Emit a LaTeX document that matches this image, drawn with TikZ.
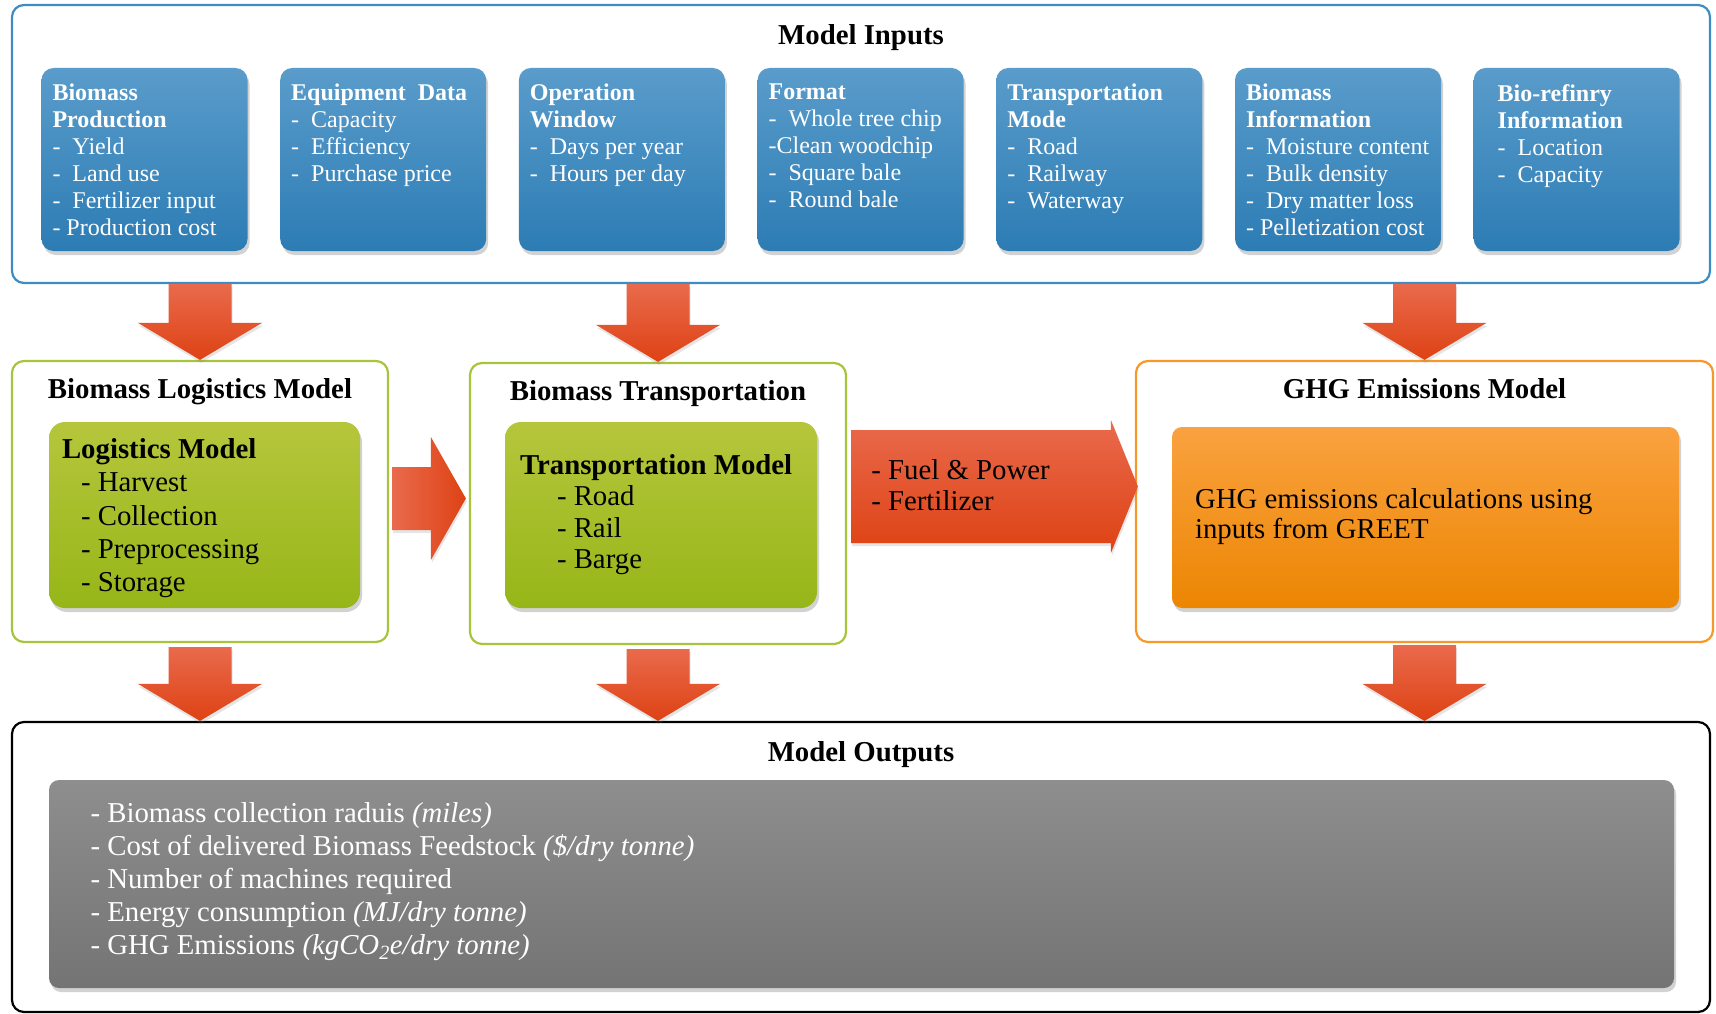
\documentclass[tikz,border=0pt]{standalone}
\usepackage{fontspec}
\setmainfont{Liberation Serif}
\usepackage{tikz}
\usepackage{xcolor}
\usetikzlibrary{positioning}
\usetikzlibrary{calc}
\usetikzlibrary{shadows}

\definecolor{inblue}{RGB}{62,140,196}
\definecolor{bluetop}{RGB}{90,156,203}
\definecolor{bluebot}{RGB}{44,124,180}
\definecolor{greenedge}{RGB}{168,196,60}
\definecolor{greentop}{RGB}{182,198,60}
\definecolor{greenbot}{RGB}{150,182,24}
\definecolor{orangeedge}{RGB}{247,152,42}
\definecolor{orangetop}{RGB}{250,162,64}
\definecolor{orangebot}{RGB}{236,134,2}
\definecolor{graytop}{RGB}{142,142,142}
\definecolor{graybot}{RGB}{116,116,116}
\definecolor{redtop}{RGB}{233,106,76}
\definecolor{redbot}{RGB}{222,66,20}

\newcommand{\bigtxt}{\fontsize{28.8}{33}\selectfont}
\newcommand{\smalltxt}{\fontsize{24}{27}\selectfont}

% block arrow: [style]{start}{tip}{shaft half width}{head half width}{head length}
\newcommand{\blockarrow}[6][]{%
	\coordinate (bahead) at ($(#3)!#6!(#2)$);
	\shade[#1] ($(#2)!#4!90:(#3)$) -- ($(bahead)!#4!90:(#3)$) -- ($(bahead)!#5!90:(#3)$) -- (#3)
	-- ($(bahead)!#5!-90:(#3)$) -- ($(bahead)!#4!-90:(#3)$) -- ($(#2)!#4!-90:(#3)$) -- cycle;}

\begin{document}
\begin{tikzpicture}[x=1pt, y=-1pt,
	modframe/.style={rounded corners=12pt, line width=2.2pt, inner sep=0pt, fill=white},
	boxtitle/.style={anchor=base, inner sep=0pt, font=\bigtxt\bfseries},
	inbox/.style={rounded corners=12pt, minimum width=206pt, minimum height=183pt, top color=bluetop, bottom color=bluebot, drop shadow={opacity=0.35, shadow xshift=2pt, shadow yshift=-4pt}},
	intext/.style={anchor=north west, inner sep=0pt, align=left, text=white, font=\smalltxt},
	greenbox/.style={rounded corners=16pt, minimum width=311pt, minimum height=186pt, top color=greentop, bottom color=greenbot, drop shadow={opacity=0.35, shadow xshift=2pt, shadow yshift=-4pt}},
	bigtext/.style={anchor=north west, inner sep=0pt, align=left, font=\bigtxt},
	redshade/.style={top color=redtop, bottom color=redbot, drop shadow={opacity=0.2, shadow xshift=1pt, shadow yshift=-3pt}},
	redshaderight/.style={left color=redtop, right color=redbot, drop shadow={opacity=0.2, shadow xshift=1pt, shadow yshift=-3pt}}]
	\path[use as bounding box, fill=white] (0,0) rectangle (1716,1014);
	%
	%%%%%%%%%%%%%%%%%%%%%%%%%%%%%%%%%%%%%%
	%MODEL INPUTS
	\node[modframe, draw=inblue, minimum width=1698pt, minimum height=278pt] (inputs) at (861,144) {};
	\node[boxtitle] (inputstitle) at ([yshift=-41pt]inputs.north) {Model Inputs};
	%
	%Biomass Production
	\node[inbox] (in1) at (144.5,159.5) {};
	\node[intext] (in1txt) at ([shift={(11,15.6)}]in1.north west) {\textbf{Biomass}\\\textbf{Production}\\-~ Yield\\-~ Land use\\-~ Fertilizer input\\- Production cost};
	%
	%Equipment Data
	\node[inbox, right=32.3pt of in1] (in2) {};
	\node[intext] (in2txt) at ([shift={(11,15.6)}]in2.north west) {\textbf{Equipment~ Data}\\-~ Capacity\\-~ Efficiency\\-~ Purchase price};
	%
	%Operation Window
	\node[inbox, right=32.3pt of in2] (in3) {};
	\node[intext] (in3txt) at ([shift={(11,15.6)}]in3.north west) {\textbf{Operation}\\\textbf{Window}\\-~ Days per year\\-~ Hours per day};
	%
	%Format
	\node[inbox, right=32.3pt of in3] (in4) {};
	\node[intext] (in4txt) at ([shift={(11,15.6)}]in4.north west) {\textbf{Format}\\-~ Whole tree chip\\-Clean woodchip\\-~ Square bale\\-~ Round bale};
	%
	%Transportation Mode
	\node[inbox, right=32.3pt of in4] (in5) {};
	\node[intext] (in5txt) at ([shift={(11,15.6)}]in5.north west) {\textbf{Transportation}\\\textbf{Mode}\\-~ Road\\-~ Railway\\-~ Waterway};
	%
	%Biomass Information
	\node[inbox, right=32.3pt of in5] (in6) {};
	\node[intext] (in6txt) at ([shift={(11,15.6)}]in6.north west) {\textbf{Biomass}\\\textbf{Information}\\-~ Moisture content\\-~ Bulk density\\-~ Dry matter loss\\- Pelletization cost};
	%
	%Bio-refinery Information
	\node[inbox, right=32.3pt of in6] (in7) {};
	\node[intext] (in7txt) at ([shift={(24,17)}]in7.north west) {\textbf{Bio-refinry}\\\textbf{Information}\\-~ Location\\-~ Capacity};
	%
	%%%%%%%%%%%%%%%%%%%%%%%%%%%%%%%%%%%%%%
	%BIOMASS LOGISTICS MODEL
	\node[modframe, draw=greenedge, minimum width=376pt, minimum height=281pt] (logi) at (200,501.5) {};
	\node[boxtitle] (logititle) at ([yshift=-39pt]logi.north) {Biomass Logistics Model};
	\node[greenbox] (logibox) at (204.5,515) {};
	\node[bigtext, font=\fontsize{28.8}{33.3}\selectfont] (logitxt) at ([shift={(13,16.5)}]logibox.north west) {\textbf{Logistics Model}\\\hspace*{19pt}- Harvest\\\hspace*{19pt}- Collection\\\hspace*{19pt}- Preprocessing\\\hspace*{19pt}- Storage};
	%
	%BIOMASS TRANSPORTATION
	\node[modframe, draw=greenedge, minimum width=376pt, minimum height=281pt] (trans) at (658,503.5) {};
	\node[boxtitle] (transtitle) at ([yshift=-39pt]trans.north) {Biomass Transportation};
	\node[greenbox, minimum width=312pt] (transbox) at (661,515) {};
	\node[bigtext, font=\fontsize{28.8}{31.5}\selectfont] (transtxt) at ([shift={(15,32.3)}]transbox.north west) {\textbf{Transportation Model}\\\hspace*{37pt}- Road\\\hspace*{37pt}- Rail\\\hspace*{37pt}- Barge};
	%
	%GHG EMISSIONS MODEL
	\node[modframe, draw=orangeedge, minimum width=577pt, minimum height=281pt] (ghg) at (1424.5,501.5) {};
	\node[boxtitle] (ghgtitle) at ([yshift=-39pt]ghg.north) {GHG Emissions Model};
	\node[rounded corners=10pt, minimum width=507pt, minimum height=181pt, top color=orangetop, bottom color=orangebot, drop shadow={opacity=0.35, shadow xshift=2pt, shadow yshift=-4pt}] (ghgbox) at (1425.5,517.5) {};
	\node[bigtext, font=\fontsize{28.8}{30}\selectfont] (ghgtxt) at ([shift={(23,62)}]ghgbox.north west) {GHG emissions calculations using\\inputs from GREET};
	%
	%%%%%%%%%%%%%%%%%%%%%%%%%%%%%%%%%%%%%%
	%MODEL OUTPUTS
	\node[modframe, draw=black, minimum width=1698pt, minimum height=290pt] (outputs) at (861,867) {};
	\node[boxtitle] (outputstitle) at ([yshift=-41pt]outputs.north) {Model Outputs};
	\node[rounded corners=10pt, minimum width=1625pt, minimum height=208pt, top color=graytop, bottom color=graybot, drop shadow={opacity=0.35, shadow xshift=2pt, shadow yshift=-4pt}] (outbox) at (861.5,884) {};
	\node[bigtext, text=white] (outtxt) at ([shift={(41.5,23)}]outbox.north west) {- Biomass collection raduis \textit{(miles)}\\- Cost of delivered Biomass Feedstock \textit{(\$/dry tonne)}\\- Number of machines required\\- Energy consumption \textit{(MJ/dry tonne)}\\- GHG Emissions \textit{(kgCO\textsubscript{2}e/dry tonne)}};
	%
	%%%%%%%%%%%%%%%%%%%%%%%%%%%%%%%%%%%%%%
	%Pfeile Inputs - Modelle
	\coordinate (a1s) at (inputs.south -| logi.north);
	\blockarrow[redshade]{a1s}{logi.north}{31.5pt}{62pt}{37pt}
	\coordinate (a2s) at (inputs.south -| trans.north);
	\blockarrow[redshade]{a2s}{trans.north}{31.5pt}{62pt}{37pt}
	\coordinate (a3s) at (inputs.south -| ghg.north);
	\blockarrow[redshade]{a3s}{ghg.north}{31.5pt}{62pt}{37pt}
	%
	%Pfeil Logistics - Transportation
	\coordinate (lt1) at ([shift={(3,-3)}]logi.east);
	\coordinate (lt2) at ($(trans.west |- lt1)+(-3,0)$);
	\blockarrow[redshaderight]{lt1}{lt2}{31.5pt}{61.5pt}{35pt}
	%
	%Pfeil Transportation - GHG
	\coordinate (fuelstart) at ([shift={(4,-17)}]trans.east);
	\coordinate (fuelend) at ($(ghg.west |- fuelstart)+(3,0)$);
	\blockarrow[redshade]{fuelstart}{fuelend}{56.5pt}{66.5pt}{27pt}
	\node[bigtext, font=\fontsize{28.8}{31}\selectfont] (fueltxt) at ([shift={(20,-27)}]fuelstart) {- Fuel \& Power\\- Fertilizer};
	%
	%Pfeile Modelle - Outputs
	\coordinate (b1s) at ([yshift=-4pt]logi.south);
	\coordinate (b1e) at (outputs.north -| logi.south);
	\blockarrow[redshade]{b1s}{b1e}{31.5pt}{62pt}{37pt}
	\coordinate (b2s) at ([yshift=-4pt]trans.south);
	\coordinate (b2e) at (outputs.north -| trans.south);
	\blockarrow[redshade]{b2s}{b2e}{31.5pt}{62pt}{37pt}
	\coordinate (b3s) at ([yshift=-2pt]ghg.south);
	\coordinate (b3e) at (outputs.north -| ghg.south);
	\blockarrow[redshade]{b3s}{b3e}{31.5pt}{62pt}{37pt}
\end{tikzpicture}
\end{document}
